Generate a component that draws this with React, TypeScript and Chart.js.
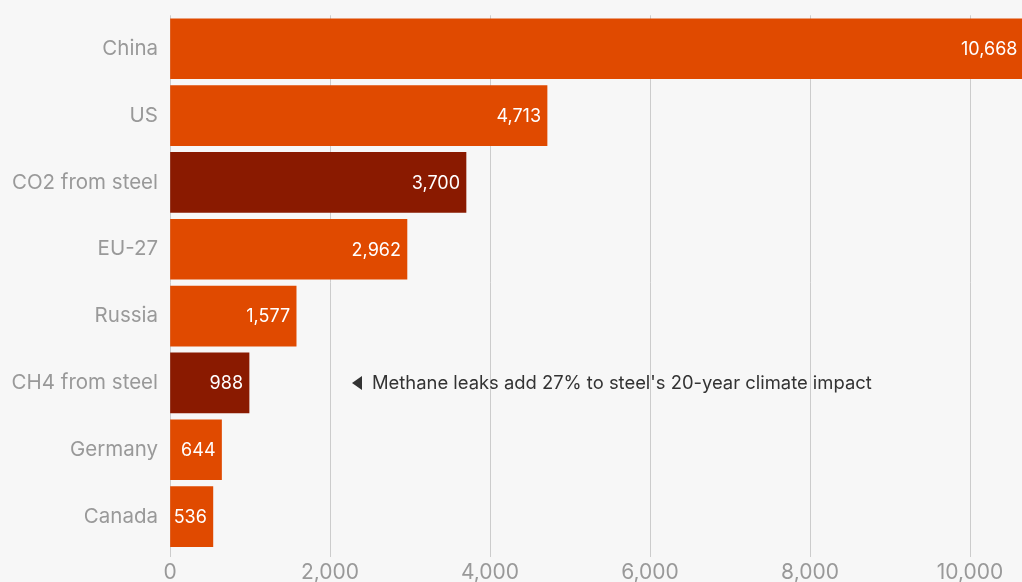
import React, { useEffect, useRef } from "react";
import { Chart, registerables } from "chart.js";

Chart.register(...registerables);

const categories = ["China", "US", "CO2 from steel", "EU-27", "Russia", "CH4 from steel", "Germany", "Canada"];
const values = [10668, 4713, 3700, 2962, 1577, 988, 644, 536];
const isSteel = [false, false, true, false, false, true, false, false];
const xTickValues = [0, 2000, 4000, 6000, 8000, 10000];
const annotationText = "Methane leaks add 27% to steel's 20-year climate impact";
const annotationCategory = "CH4 from steel";
const annotationValue = 2275;

const ORANGE = "#e04a00";
const DARK = "#8a1a00";
const FONT = "Inter, 'Noto Sans', sans-serif";

const valueLabels = {
  id: "valueLabels",
  afterDatasetsDraw(chart: any) {
    const ctx = chart.ctx;
    const meta = chart.getDatasetMeta(0);
    ctx.save();
    ctx.font = `400 18px ${FONT}`;
    ctx.fillStyle = "#ffffff";
    ctx.textAlign = "right";
    ctx.textBaseline = "middle";
    meta.data.forEach((bar: any, i: number) => {
      const end = Math.min(bar.x, chart.width);
      ctx.fillText(values[i].toLocaleString("en-US"), end - 6, bar.y + 1);
    });
    // annotation
    const xs = chart.scales.x;
    const ys = chart.scales.y;
    const ax = xs.getPixelForValue(annotationValue);
    const ay = ys.getPixelForValue(categories.indexOf(annotationCategory));
    ctx.fillStyle = "#333333";
    ctx.beginPath();
    ctx.moveTo(ax, ay);
    ctx.lineTo(ax + 10, ay - 7);
    ctx.lineTo(ax + 10, ay + 7);
    ctx.closePath();
    ctx.fill();
    ctx.font = `400 18.4px ${FONT}`;
    ctx.textAlign = "left";
    ctx.fillText(annotationText, ax + 20, ay + 1);
    ctx.restore();
  },
};

export default function App() {
  const ref = useRef<HTMLCanvasElement>(null);
  useEffect(() => {
    document.body.style.margin = "0";
    document.body.style.overflow = "hidden";
    document.body.style.background = "#f7f7f7";
    const chart = new Chart(ref.current!, {
      type: "bar",
      data: {
        labels: categories,
        datasets: [
          {
            data: values,
            backgroundColor: isSteel.map((s) => (s ? DARK : ORANGE)),
            borderWidth: 0,
            barThickness: 60,
          },
        ],
      },
      options: {
        indexAxis: "y",
        animation: false,
        responsive: true,
        maintainAspectRatio: false,
        layout: { padding: { top: 6, right: 0, left: 0, bottom: 0 } },
        plugins: { legend: { display: false }, tooltip: { enabled: false } },
        scales: {
          x: {
            min: 0,
            max: 10750,
            afterFit: (s: any) => {
              s.height = 50;
            },
            afterBuildTicks: (s: any) => {
              s.ticks = xTickValues.map((v) => ({ value: v }));
            },
            ticks: {
              color: "#999999",
              font: { family: FONT, size: 21 },
              padding: 3,
              callback: (v: any) => Number(v).toLocaleString("en-US"),
            },
            grid: { color: "#cccccc", lineWidth: 1, tickLength: 7, drawTicks: true },
            border: { display: false },
          },
          y: {
            afterFit: (s: any) => {
              s.width = 170;
            },
            ticks: {
              color: "#999999",
              font: { family: FONT, size: 20.5 },
              padding: 12,
            },
            grid: { display: false, drawTicks: false },
            border: { display: false },
          },
        },
      },
      plugins: [valueLabels],
    });
    return () => chart.destroy();
  }, []);
  return (
    <div style={{ position: "fixed", left: 0, top: 0, width: 1022, height: 582, overflow: "hidden", background: "#f7f7f7" }}>
      <div style={{ position: "absolute", left: 0, top: -9, width: 1030, height: 609 }}>
        <canvas ref={ref} />
      </div>
    </div>
  );
}
